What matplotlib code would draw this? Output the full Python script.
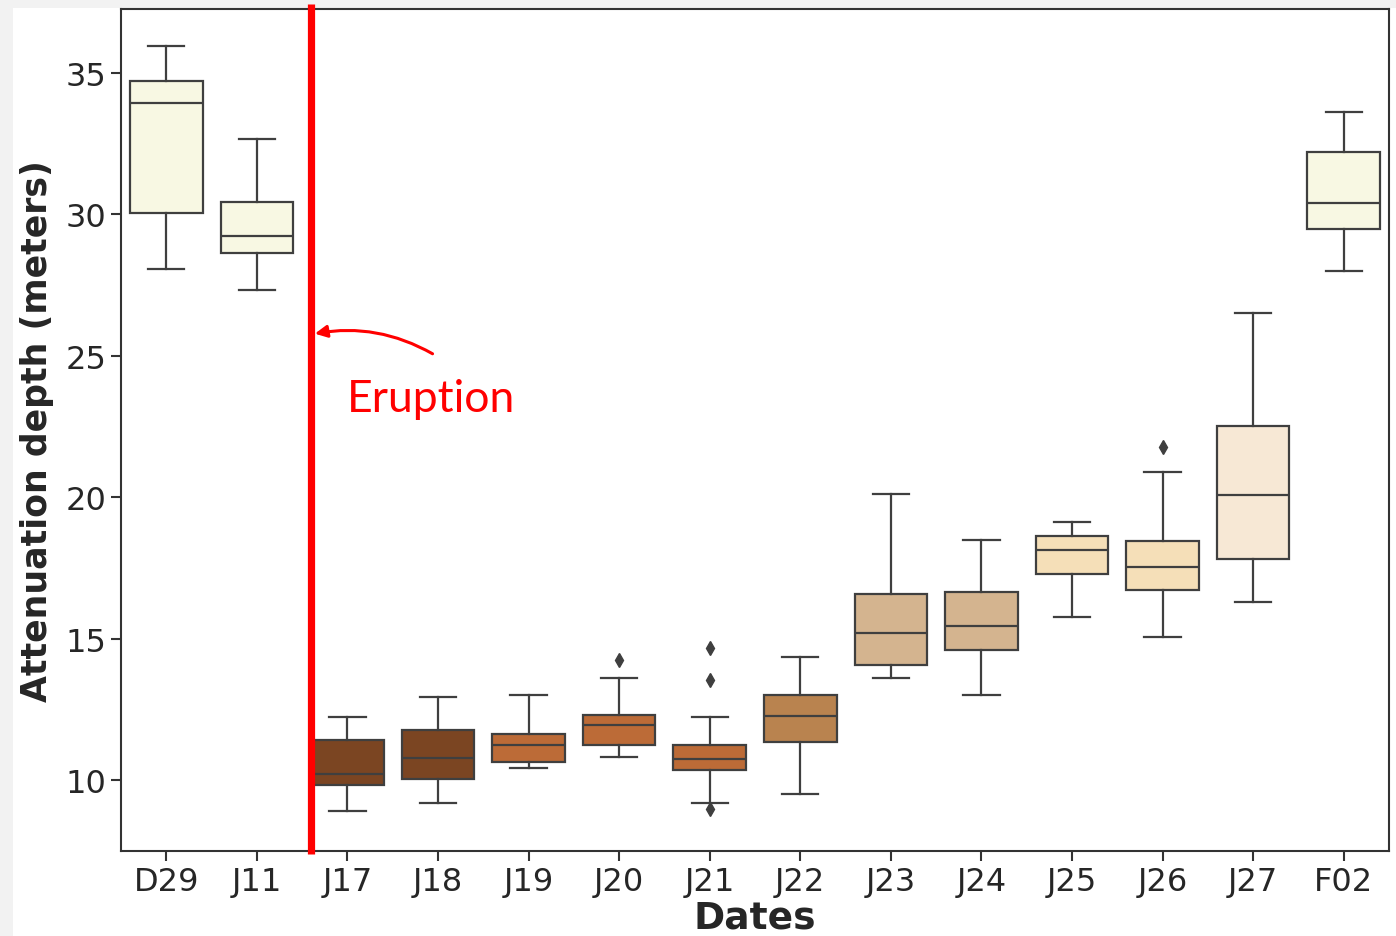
import matplotlib
matplotlib.use("Agg")
import matplotlib.pyplot as plt
from matplotlib.patches import Rectangle

# box statistics (meters)
dates = ['D29', 'J11', 'J17', 'J18', 'J19', 'J20', 'J21', 'J22', 'J23', 'J24', 'J25', 'J26', 'J27', 'F02']
whislo = [28.07, 27.33, 8.92, 9.20, 10.41, 10.83, 9.20, 9.52, 13.59, 13.02, 15.78, 15.07, 16.31, 28.00]
q1 = [30.05, 28.64, 9.81, 10.05, 10.62, 11.25, 10.37, 11.33, 14.08, 14.61, 17.30, 16.73, 17.83, 29.49]
med = [33.94, 29.24, 10.23, 10.79, 11.25, 11.96, 10.76, 12.28, 15.18, 15.46, 18.14, 17.54, 20.09, 30.41]
q3 = [34.72, 30.44, 11.40, 11.78, 11.61, 12.31, 11.25, 13.02, 16.59, 16.66, 18.64, 18.46, 22.53, 32.21]
whishi = [35.95, 32.67, 12.24, 12.95, 12.99, 13.62, 12.24, 14.36, 20.12, 18.50, 19.13, 20.90, 26.52, 33.62]
fliers = [[], [], [], [], [], [14.26], [14.68, 13.55, 8.99], [], [], [], [], [21.78], [], []]

box_colors = ['#F8F8E3', '#F8F8E3', '#7B4522', '#7B4522', '#BC6B37', '#BC6B37', '#BC6B37',
              '#B9834F', '#D4B48F', '#D4B48F', '#F5DFB8', '#F5DFB8', '#F7E8D5', '#F8F8E3']

eruption_x = 1.6
line_col = '#3F3F3F'

fig = plt.figure(figsize=(13.96, 9.37), dpi=100, facecolor='#F2F2F2')
fig.patches.append(Rectangle((13 / 1396, 0), 1, (937 - 9) / 937, transform=fig.transFigure,
                             facecolor='white', edgecolor='none', zorder=-10))
ax = fig.add_axes([121 / 1396, 1 - 852 / 937, (1389 - 121) / 1396, (852 - 10) / 937])

stats = []
for i in range(len(dates)):
  stats.append(dict(label=dates[i], whislo=whislo[i], q1=q1[i], med=med[i],
                    q3=q3[i], whishi=whishi[i], fliers=fliers[i]))

bp = ax.bxp(stats, positions=range(len(dates)), widths=0.8, patch_artist=True,
            boxprops=dict(edgecolor=line_col, linewidth=1.6),
            medianprops=dict(color=line_col, linewidth=1.6),
            whiskerprops=dict(color=line_col, linewidth=1.6),
            capprops=dict(color=line_col, linewidth=1.6),
            flierprops=dict(marker='d', markerfacecolor=line_col, markeredgecolor=line_col,
                            markersize=7, linestyle='none'))
for patch, c in zip(bp['boxes'], box_colors):
  patch.set_facecolor(c)

ax.set_xlim(-0.5, len(dates) - 0.5)
ax.set_ylim(7.49, 37.26)
ax.set_yticks([10, 15, 20, 25, 30, 35])

# eruption marker
ax.plot([eruption_x, eruption_x], [7.38, 37.43], color='#FF0000', lw=5.2,
        clip_on=False, zorder=5, solid_capstyle='butt')
ax.annotate('', xy=(eruption_x + 0.04, 25.78), xytext=(2.94, 25.07),
            arrowprops=dict(arrowstyle='-|>', color='#FF0000', lw=2.2,
                            mutation_scale=18, shrinkA=0, shrinkB=0,
                            connectionstyle='arc3,rad=0.18'))
ax.text(2.92, 23.5, 'Eruption', color='#FF0000', fontsize=32, family='Lato',
        ha='center', va='center')

for s in ax.spines.values():
  s.set_color('#333333')
  s.set_linewidth(1.5)
ax.tick_params(axis='both', labelsize=23, colors='#333333', labelcolor='#262626',
               length=7, width=1.5)

ax.set_xlabel('Dates', fontsize=27, fontweight='bold', color='#262626', labelpad=2)
ax.set_ylabel('Attenuation depth (meters)', fontsize=25, fontweight='bold',
              color='#262626', labelpad=8)

plt.savefig('out.png', dpi=100, facecolor=fig.get_facecolor())
